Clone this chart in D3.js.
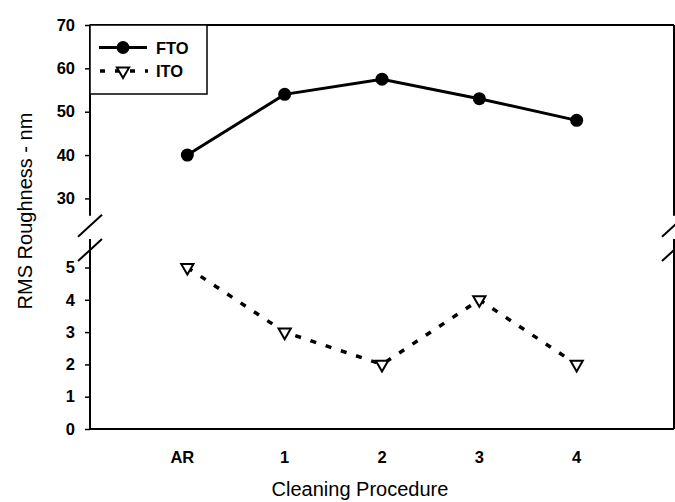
<!DOCTYPE html>
<html>
<head>
<meta charset="utf-8">
<script src="https://cdn.jsdelivr.net/npm/d3@7"></script>
<style>
  body { margin: 0; background: #fff; }
  text { font-family: "Liberation Sans", Arial, sans-serif; fill: #000; }
</style>
</head>
<body>
<svg id="chart" width="675" height="502"></svg>
<script>
// data
const categories = ['AR', '1', '2', '3', '4'];
const ftoValues = [40, 54, 57.5, 53, 48];
const itoValues = [5, 3, 2, 4, 2];
const upperTicks = [30, 40, 50, 60, 70];
const lowerTicks = [0, 1, 2, 3, 4, 5];

const plotLeft = 90, plotRight = 674, plotTop = 25, plotBottom = 429;

const svg = d3.select('#chart');

// x: category index, one empty slot either side
const xScale = d3.scaleLinear().domain([-1, categories.length]).range([plotLeft, plotRight]);

// two y panels with a break between them
const yTop = d3.scaleLinear().domain([30, 70]).range([198.4, plotTop]);
const yBot = d3.scaleLinear().domain([0, 5]).range([plotBottom, 267.5]);
const topLow = 26;     // where upper panel stops
const botHigh = 5.88;  // where lower panel stops

// frame lines
const frame = svg.append('g').attr('stroke', '#000').attr('stroke-width', 2);
frame.append('line').attr('x1', plotLeft).attr('x2', plotRight).attr('y1', plotTop).attr('y2', plotTop);
frame.append('line').attr('x1', plotLeft).attr('x2', plotRight).attr('y1', plotBottom).attr('y2', plotBottom);
[plotLeft, plotRight].forEach(x => {
    frame.append('line').attr('x1', x).attr('x2', x).attr('y1', plotTop).attr('y2', yTop(topLow));
    frame.append('line').attr('x1', x).attr('x2', x).attr('y1', yBot(botHigh)).attr('y2', plotBottom);
    // break slashes
    [yTop(topLow) + 10, yBot(botHigh) + 11].forEach(cy => {
        frame.append('line')
            .attr('x1', x - 12).attr('y1', cy + 11)
            .attr('x2', x + 12).attr('y2', cy - 11);
    });
});

// y axes
function yAxis(scale, ticks) {
    const g = svg.append('g')
        .attr('transform', `translate(${plotLeft},0)`)
        .call(d3.axisLeft(scale).tickValues(ticks).tickSize(5).tickPadding(10).tickFormat(d3.format('d')));
    g.select('.domain').remove();
    g.selectAll('.tick line').attr('stroke', '#000').attr('stroke-width', 1.5);
    g.selectAll('.tick text')
        .style('font-size', '16.5px')
        .style('font-weight', 'bold')
        .style('font-family', '"Liberation Sans", Arial, sans-serif')
        .attr('fill', '#000');
}
yAxis(yTop, upperTicks);
yAxis(yBot, lowerTicks);

// x tick labels
svg.append('g').selectAll('text')
    .data(categories)
    .enter()
    .append('text')
    .attr('x', (d, i) => xScale(i) - (i === 0 ? 5 : 0))
    .attr('y', 463)
    .attr('text-anchor', 'middle')
    .style('font-size', '16.5px')
    .style('font-weight', 'bold')
    .text(d => d);

// axis titles
svg.append('text')
    .attr('x', 360)
    .attr('y', 496)
    .attr('text-anchor', 'middle')
    .style('font-size', '20px')
    .text('Cleaning Procedure');

svg.append('text')
    .attr('transform', 'rotate(-90)')
    .attr('x', -211)
    .attr('y', 32)
    .attr('text-anchor', 'middle')
    .style('font-size', '20px')
    .text('RMS Roughness - nm');

// ITO dashed line + open triangles
const itoLine = d3.line()
    .x((d, i) => xScale(i))
    .y(d => yBot(d));

svg.append('path')
    .datum(itoValues)
    .attr('d', itoLine)
    .attr('fill', 'none')
    .attr('stroke', '#000')
    .attr('stroke-width', 3.5)
    .attr('stroke-dasharray', '6,10');

const tri = d3.symbol().type(d3.symbolTriangle).size(65);
svg.selectAll('.ito')
    .data(itoValues)
    .enter()
    .append('path')
    .attr('class', 'ito')
    .attr('d', tri)
    .attr('transform', (d, i) => `translate(${xScale(i)},${yBot(d)}) rotate(180)`)
    .attr('fill', '#fff')
    .attr('stroke', '#000')
    .attr('stroke-width', 2);

// FTO solid line + filled circles
const ftoLine = d3.line()
    .x((d, i) => xScale(i))
    .y(d => yTop(d));

svg.append('path')
    .datum(ftoValues)
    .attr('d', ftoLine)
    .attr('fill', 'none')
    .attr('stroke', '#000')
    .attr('stroke-width', 3);

svg.selectAll('.fto')
    .data(ftoValues)
    .enter()
    .append('circle')
    .attr('class', 'fto')
    .attr('cx', (d, i) => xScale(i))
    .attr('cy', d => yTop(d))
    .attr('r', 6.5)
    .attr('fill', '#000');

// legend
const legend = svg.append('g');
legend.append('rect')
    .attr('x', plotLeft).attr('y', plotTop)
    .attr('width', 117).attr('height', 69)
    .attr('fill', '#fff')
    .attr('stroke', '#000')
    .attr('stroke-width', 1.5);

legend.append('line')
    .attr('x1', 99).attr('x2', 147).attr('y1', 47.5).attr('y2', 47.5)
    .attr('stroke', '#000').attr('stroke-width', 3);
legend.append('circle').attr('cx', 123).attr('cy', 47.5).attr('r', 6.5).attr('fill', '#000');
legend.append('text').attr('x', 156).attr('y', 53.5).style('font-size', '16.5px').style('font-weight', 'bold').text('FTO');

legend.append('line')
    .attr('x1', 100).attr('x2', 148).attr('y1', 71).attr('y2', 71)
    .attr('stroke', '#000').attr('stroke-width', 3.5)
    .attr('stroke-dasharray', '5,10');
legend.append('path')
    .attr('d', tri)
    .attr('transform', 'translate(123,71) rotate(180)')
    .attr('fill', '#fff').attr('stroke', '#000').attr('stroke-width', 2);
legend.append('text').attr('x', 156).attr('y', 77).style('font-size', '16.5px').style('font-weight', 'bold').text('ITO');
</script>
</body>
</html>
